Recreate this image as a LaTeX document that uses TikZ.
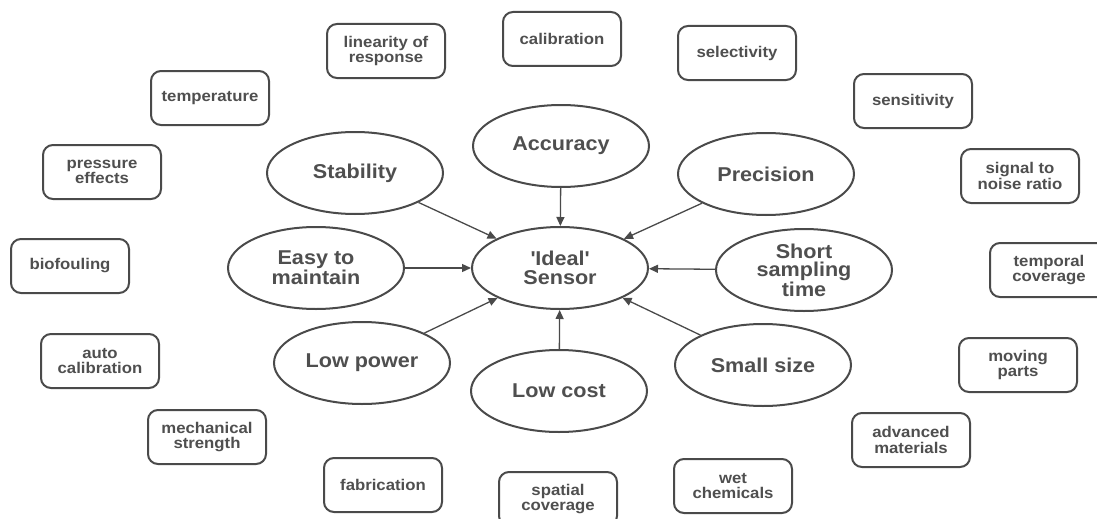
\documentclass[tikz,border=0pt]{standalone}
\usepackage{fontspec}
\setmainfont{Liberation Sans}[FakeStretch=1.08]
\usetikzlibrary{shapes.geometric,arrows.meta}
\definecolor{ink}{HTML}{4A4A4A}
\definecolor{txt}{HTML}{4F4F4F}
\begin{document}
\begin{tikzpicture}[x=1pt,y=-1pt,
  oval/.style={ellipse,draw=ink,line width=2pt,minimum width=176pt,minimum height=82pt,
    inner sep=0pt,align=center,text=txt,font=\bfseries\fontsize{20}{18.5}\selectfont},
  factor/.style={draw=ink,rounded corners=10pt,line width=2pt,minimum width=118pt,
    minimum height=54pt,inner sep=0pt,align=center,text=txt,font=\bfseries\fontsize{15.5}{15.5}\selectfont},
  arr/.style={draw=ink,line width=1.3pt,-{Triangle[length=9pt,width=8pt]}}]
\useasboundingbox (0,0) rectangle (1097,519);
\clip (0,0) rectangle (1097,519);
\fill[white] (0,0) rectangle (1097,519);

% central ellipses
\node[oval] (ideal) at (560,268) {\textquotesingle Ideal\textquotesingle\\Sensor};
\node[oval] (acc)   at (561,146) {Accuracy};
\node[oval] (stab)  at (355,173) {Stability};
\node[oval] (prec)  at (766,174) {Precision};
\node[oval] (easy)  at (316,268) {Easy to\\maintain};
\node[oval] (short) at (804,270) {Short\\sampling\\time};
\node[oval] (power) at (362,363) {Low power};
\node[oval] (cost)  at (559,391) {Low cost};
\node[oval] (small) at (763,365) {Small size};

% arrows
\draw[arr] (acc) -- (ideal);
\draw[arr] (stab) -- (ideal);
\draw[arr] (prec) -- (ideal);
\draw[arr] (easy) -- (ideal);
\draw[arr] (short) -- (ideal);
\draw[arr] (power) -- (ideal);
\draw[arr] (cost) -- (ideal);
\draw[arr] (small) -- (ideal);

% outer factor boxes
\node[factor] (lin)   at (386,51)  {linearity of\\response};
\node[factor] (cal)   at (562,39)  {calibration};
\node[factor] (sel)   at (737,53)  {selectivity};
\node[factor] (sens)  at (913,101) {sensitivity};
\node[factor] (snr)   at (1020,176) {signal to\\noise ratio};
\node[factor] (temp)  at (1049,270) {temporal\\coverage};
\node[factor] (move)  at (1018,365) {moving\\parts};
\node[factor] (adv)   at (911,440) {advanced\\materials};
\node[factor] (wet)   at (733,486) {wet\\chemicals};
\node[factor] (spat)  at (558,499) {spatial\\coverage};
\node[factor] (fab)   at (383,485) {fabrication};
\node[factor] (mech)  at (207,437) {mechanical\\strength};
\node[factor] (auto)  at (100,361) {auto\\calibration};
\node[factor] (bio)   at (70,266)  {biofouling};
\node[factor] (press) at (102,172) {pressure\\effects};
\node[factor] (tempr) at (210,98)  {temperature};
\end{tikzpicture}
\end{document}
